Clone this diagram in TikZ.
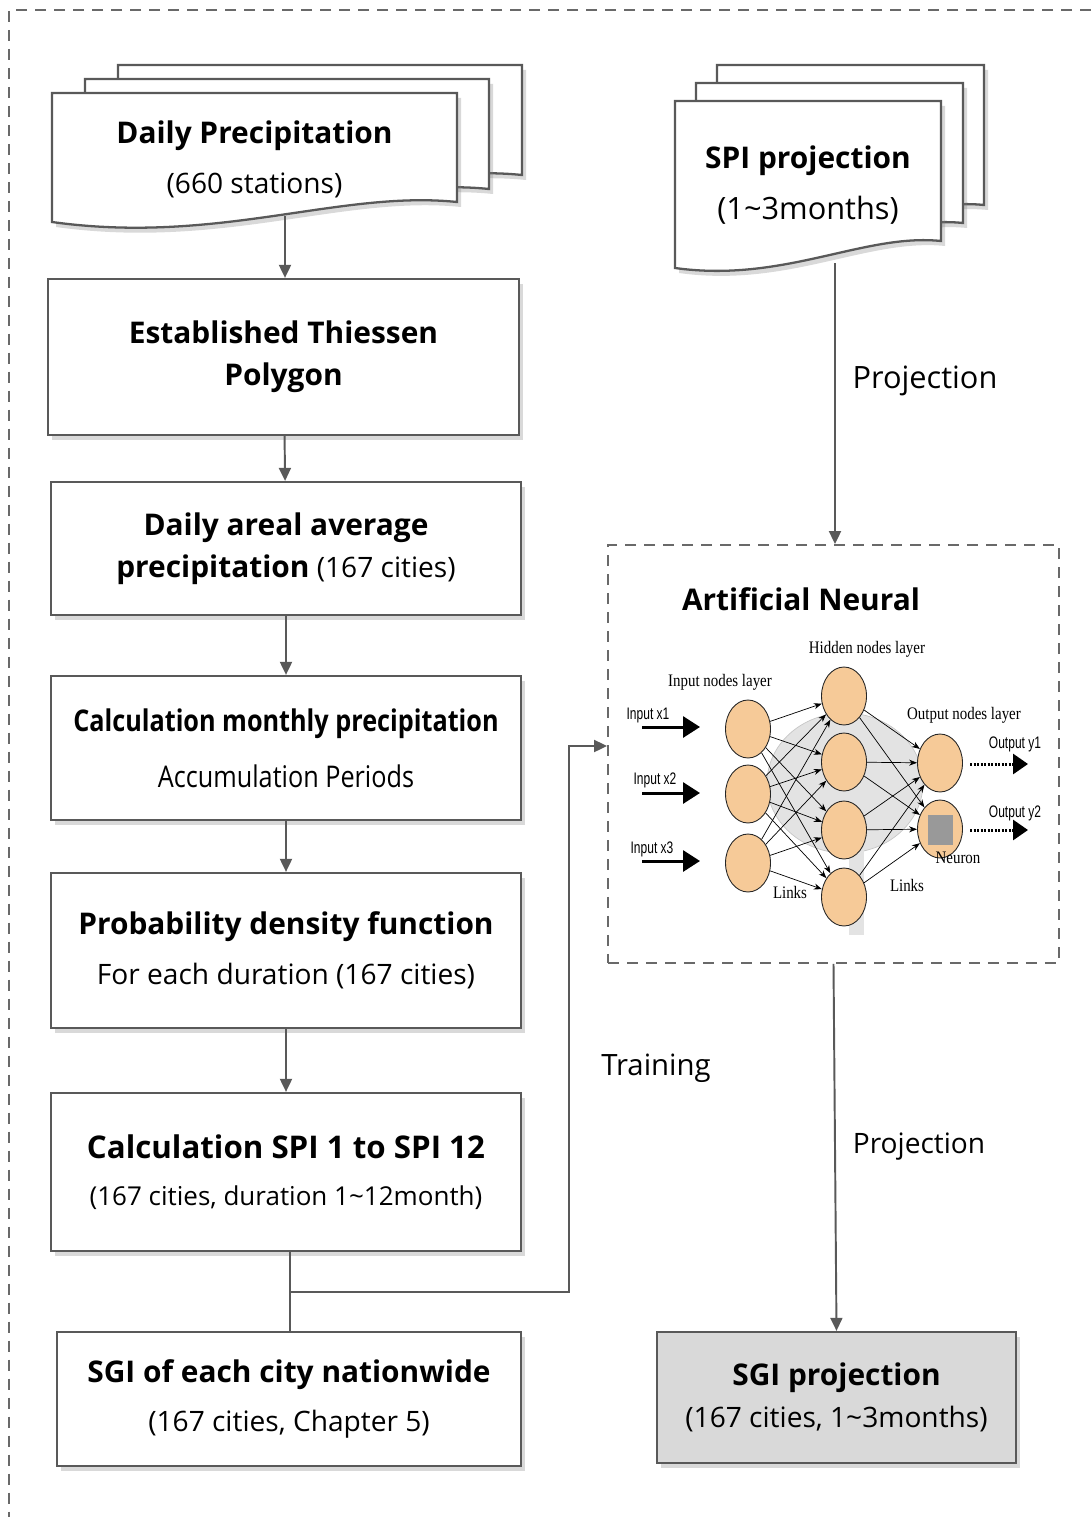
\documentclass[tikz,border=0pt]{standalone}
\usepackage{fontspec}
\setmainfont{Open Sans}
\newfontfamily\condfont{Open Sans}[FakeStretch=0.845]
\newfontfamily\nnserif{Liberation Serif}[FakeStretch=0.85]
\newfontfamily\nnsans{Liberation Sans}[FakeStretch=0.72]
\usetikzlibrary{arrows.meta, shapes.geometric, shadows, positioning, calc}
\definecolor{edgegray}{RGB}{89,89,89}
\definecolor{dashgray}{RGB}{105,105,105}
\definecolor{peach}{RGB}{246,202,152}
\definecolor{outfill}{RGB}{217,217,217}

\newcommand{\hd}{\fontsize{17}{24}\selectfont\bfseries}

% one sheet of a multi-document: left, top, right, bottom right, bottom left
\newcommand{\docsheet}[5]{%
  \draw[sheet] (#1,#2) -- (#3,#2) -- (#3,#4)
    .. controls ({#3-0.29*(#3-#1)},{#4-0.03*(#3-#1)}) and ({#1+0.41*(#3-#1)},{#5+0.057*(#3-#1)}) .. (#1,#5) -- cycle;}

\begin{document}
\begin{tikzpicture}[x=0.02cm, y=-0.02cm,
    font=\fontsize{16}{24}\selectfont,
    shade/.style={drop shadow={shadow xshift=0.08cm, shadow yshift=-0.1cm, opacity=0.3}},
    box/.style={draw=edgegray, line width=1.3pt, fill=white, align=center, inner sep=0pt, shade},
    sheet/.style={draw=edgegray, line width=1.3pt, fill=white, shade},
    doctext/.style={align=center, inner sep=0pt},
    arr/.style={draw=edgegray, line width=1.1pt, -{Triangle[length=0.26cm, width=0.24cm]}},
    conn/.style={draw=edgegray, line width=1.1pt},
    dashbox/.style={draw=dashgray, line width=1.1pt, dash pattern=on 0.22cm off 0.16cm},
    lbl/.style={font=\fontsize{16}{20}\selectfont},
    cell/.style={ellipse, draw=black!85, line width=0.5pt, fill=peach, minimum width=0.9cm, minimum height=1.16cm, inner sep=0pt},
    link/.style={line width=0.4pt, -{Stealth[length=0.16cm, width=0.12cm]}},
    inarr/.style={line width=1.7pt, -{Triangle[length=0.34cm, width=0.42cm]}},
    outarr/.style={line width=1.7pt, dash pattern=on 0.04cm off 0.03cm, -{Triangle[length=0.3cm, width=0.4cm]}},
    layer/.style={font=\nnserif\fontsize{10}{12}\selectfont, inner sep=0pt},
    io/.style={font=\nnsans\fontsize{9.5}{11}\selectfont, inner sep=0pt}]
    \useasboundingbox (0,0) rectangle (1091,1517);

    % outer frame
    \draw[dashbox] (1091,10) -- (9,10) -- (9,1517);

    % left column
    \docsheet{118}{65}{522}{175}{195}
    \docsheet{85}{79}{489}{189}{209}
    \docsheet{52}{93}{457}{202}{222}
    \node[doctext] (dp) at (254.5,159) {{\hd Daily Precipitation}\\[4.5pt](660 stations)};
    \coordinate (dpb) at (285,216);

    \node[box, minimum width=9.42cm, minimum height=3.12cm] (thi) at (283.5,357) {{\hd Established Thiessen}\\{\hd Polygon}};
    \node[box, minimum width=9.4cm, minimum height=2.66cm] (areal) at (286,548.5) {{\hd Daily areal average}\\{\hd precipitation} (167 cities)};
    \node[box, minimum width=9.4cm, minimum height=2.88cm] (month) at (286,748) {{\condfont\hd Calculation monthly precipitation}\\[8pt]{\condfont\fontsize{17}{24}\selectfont Accumulation Periods}};
    \node[box, minimum width=9.4cm, minimum height=3.1cm] (pdf) at (286,950.5) {{\hd Probability density function}\\[4.5pt]For each duration (167 cities)};
    \node[box, minimum width=9.4cm, minimum height=3.16cm] (spi) at (286,1172) {{\fontsize{17.8}{24}\selectfont\bfseries Calculation SPI 1 to SPI 12}\\[3pt]{\fontsize{14.8}{16}\selectfont (167 cities, duration 1\textasciitilde12month)}};
    \node[box, minimum width=9.28cm, minimum height=2.68cm] (sgi) at (289,1399) {{\hd SGI of each city nationwide}\\[4pt](167 cities, Chapter 5)};

    \draw[arr] (dpb) -- (dpb |- thi.north);
    \draw[arr] (thi) -- (areal);
    \draw[arr] (areal) -- (month);
    \draw[arr] (month) -- (pdf);
    \draw[arr] (pdf) -- (spi);

    \coordinate (jn) at (290,1292);
    \coordinate (bend) at (569,746);
    \draw[conn] (spi.south -| jn) -- (sgi.north -| jn);

    % right column
    \docsheet{717}{65}{984}{205}{232}
    \docsheet{696}{83}{963}{223}{250}
    \docsheet{675}{101}{941}{241}{268}
    \node[doctext] (spp) at (808,185.5) {{\hd SPI projection}\\[5pt]{\fontsize{17.5}{24}\selectfont(1\textasciitilde3months)}};
    \coordinate (sppb) at (835,263);

    \node[dashbox, minimum width=9.02cm, minimum height=8.36cm] (ann) at (833.5,754) {};
    \node[font=\hd] (anntitle) at (801,599) {Artificial Neural};

    \node[box, fill=outfill, minimum width=7.18cm, minimum height=2.62cm] (sgip) at (836.5,1397.5) {{\hd SGI projection}\\(167 cities, 1\textasciitilde3months)};

    \draw[arr] (sppb) -- (sppb |- ann.north);
    \draw[arr] (ann.south) -- (sgip.north);
    \draw[arr] (jn) -| (bend) -- (bend -| ann.west);

    \node[lbl, font=\fontsize{17.5}{20}\selectfont] (proj1) at (925,381) {Projection};
    \node[lbl] (proj2) at (919,1147) {Projection};
    \node[lbl, font=\fontsize{16.7}{20}\selectfont] (train) at (656,1068) {Training};

    % network sketch
    \fill[gray!22, draw=gray!45, line width=0.4pt] (845,783) ellipse [x radius=1.56cm, y radius=1.4cm];
    \fill[gray!22] (849,840) rectangle (864,935);
    \foreach \k/\y in {1/729, 2/794, 3/863}
        \node[cell] (i\k) at (748,\y) {};
    \foreach \k/\y in {1/696, 2/762, 3/830, 4/897}
        \node[cell] (h\k) at (844,\y) {};
    \foreach \k/\y in {1/763, 2/829}
        \node[cell] (o\k) at (940,\y) {};
    \node[fill=gray!80, minimum width=0.5cm, minimum height=0.6cm, inner sep=0pt] (core) at (940,830) {};
    \foreach \a in {1,2,3}
        \foreach \b in {1,2,3,4}
            \draw[link] (i\a) -- (h\b);
    \foreach \b in {1,2,3,4}
        \foreach \c in {1,2}
            \draw[link] (h\b) -- (o\c);

    \node[layer] (lin) at (720,682) {Input nodes layer};
    \node[layer] (lhid) at (867,649) {Hidden nodes layer};
    \node[layer] (lout) at (964,715) {Output nodes layer};
    \node[layer] (lneu) at (958,858) {Neuron};
    \node[layer] (lk1) at (790,892) {Links};
    \node[layer] (lk2) at (907,885) {Links};

    \foreach \k/\y in {1/727, 2/793, 3/861} {
        \coordinate (x\k) at (642,\y);
        \draw[inarr] (x\k) -- ++(58,0);
    }
    \node[io] (lx1) at (648,715) {Input x1};
    \node[io] (lx2) at (655,780) {Input x2};
    \node[io] (lx3) at (652,849) {Input x3};

    \foreach \k/\y in {1/764, 2/830} {
        \coordinate (y\k) at (970,\y);
        \draw[outarr] (y\k) -- ++(58,0);
    }
    \node[io] (ly1) at (1015,744) {Output y1};
    \node[io] (ly2) at (1015,813) {Output y2};
\end{tikzpicture}
\end{document}
